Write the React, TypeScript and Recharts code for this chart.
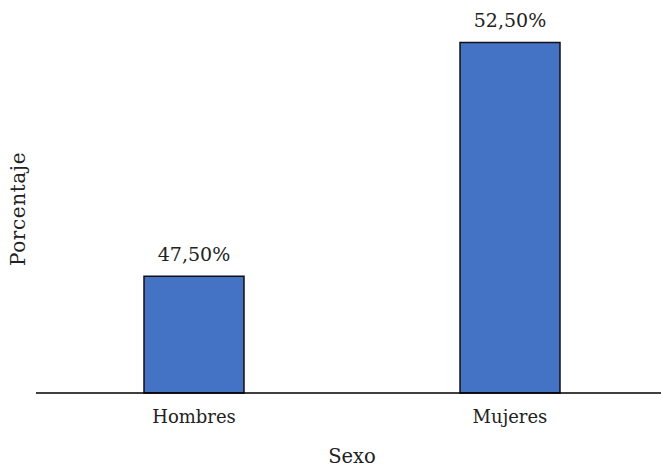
import { BarChart, Bar, XAxis, YAxis, LabelList } from "recharts";

const categorias = ["Hombres", "Mujeres"];
const porcentajes = [47.5, 52.5];

const data = categorias.map((sexo, i) => ({ sexo, porcentaje: porcentajes[i] }));

const FONT = "'DejaVu Serif', 'Liberation Serif', serif";
const TEXT = "#222";

const formatPct = (v: number) => v.toFixed(2).replace(".", ",") + "%";

export default function App() {
  return (
    <div
      style={{
        position: "absolute",
        left: 0,
        top: 0,
        width: 661,
        height: 469,
        overflow: "hidden",
        background: "#fff",
        fontFamily: FONT,
      }}
    >
      <style>{`.recharts-wrapper text { font-family: ${FONT} !important; }`}</style>
      <BarChart
        width={668}
        height={469}
        data={data}
        margin={{ top: 19, right: 0, left: 0, bottom: 0 }}
        barSize={100}
      >
        <XAxis
          dataKey="sexo"
          height={76}
          axisLine={{ stroke: "#000", strokeWidth: 1.5 }}
          tickLine={false}
          tickMargin={11}
          tick={{ fill: TEXT, fontSize: 18 }}
          label={{
            value: "Sexo",
            position: "insideBottom",
            offset: 6,
            fill: TEXT,
            fontSize: 19.5,
          }}
        />
        <YAxis
          width={36}
          domain={[45, 53]}
          axisLine={false}
          tickLine={false}
          tick={false}
          label={{
            value: "Porcentaje",
            angle: -90,
            position: "center",
            dy: 3,
            fill: TEXT,
            fontSize: 20,
            letterSpacing: 0.6,
          }}
        />
        <Bar
          dataKey="porcentaje"
          fill="#4472C4"
          stroke="#111"
          strokeWidth={1.5}
          isAnimationActive={false}
        >
          <LabelList
            dataKey="porcentaje"
            position="top"
            offset={15}
            formatter={(v: any) => formatPct(Number(v))}
            fill={TEXT}
            fontSize={19}
          />
        </Bar>
      </BarChart>
    </div>
  );
}
